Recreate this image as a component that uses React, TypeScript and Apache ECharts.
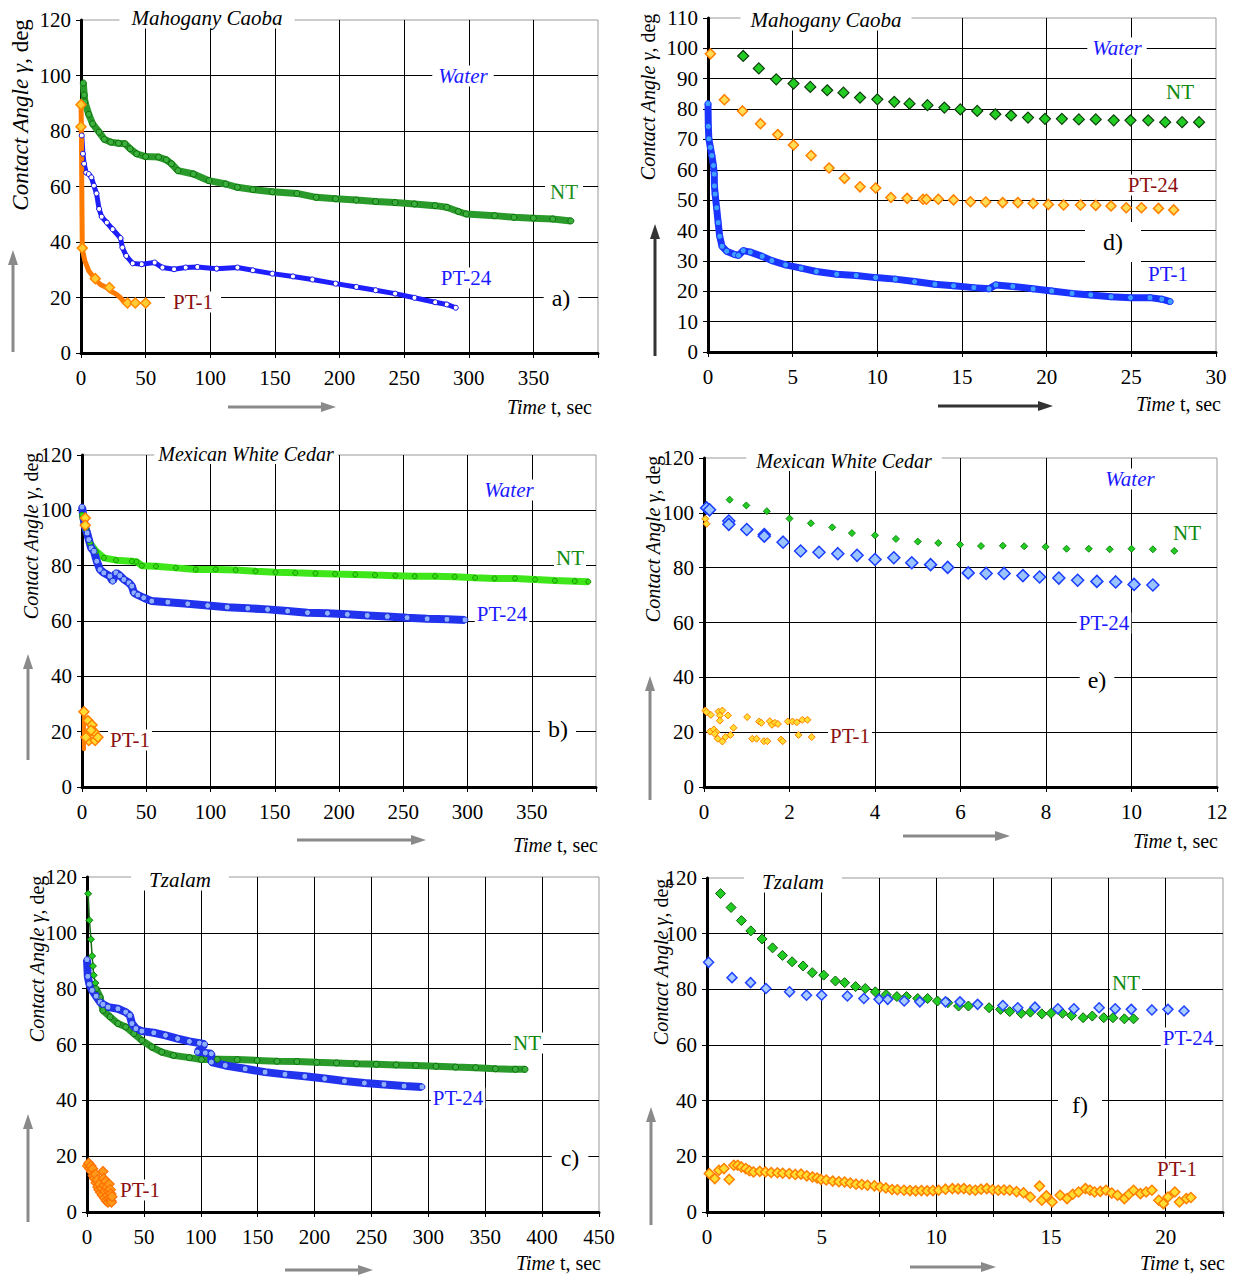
import React, { useEffect, useRef } from 'react';
import * as echarts from 'echarts';

const FONT = '"Liberation Serif", "Times New Roman", serif';

// ---------- Panel a) Mahogany Caoba, long time ----------
const aNT = [[1.8,97.3],[2.5,93],[3,90.5],[6,86],[9,82.6],[14,79.6],[18,77],[23,76],[29,75.6],[34,75.4],[38,73.6],[43,71.8],[50,70.8],[60,70.6],[66,69.6],[70,68.2],[75,65.7],[87,64.5],[99,62.1],[112,60.9],[121,59.7],[133,58.9],[148,58.1],[167,57.5],[182,56.1],[197,55.6],[213,55.1],[228,54.6],[243,54.2],[258,53.7],[274,53.1],[283,52.5],[292,51],[298,50.1],[320,49.5],[335,48.9],[350,48.6],[365,48.3],[379,47.6]];
const aPT24 = [[0.6,78.4],[1.5,71.8],[2.4,68.2],[4,65],[6,64.5],[8,63.3],[10,60.3],[12,57.5],[14,51.9],[16,49.1],[20,47],[24.5,44.6],[30.6,41.4],[32,38],[35,35],[40,32.3],[47,32],[57,32.6],[63,30.8],[72,30.2],[81,30.8],[90,31],[105,30.4],[121,30.8],[133,29.8],[148,28.6],[164,27.6],[179,26.5],[197,25],[213,23.8],[228,22.6],[243,21.4],[258,19.9],[274,18.3],[283,17.5],[290,16.3]];
const aPT1 = [[0,90],[0.3,81.5],[0.6,60],[1,37.4],[3,33.2],[6,29.6],[11,26.5],[15,24.7],[20,23.5],[23,22.3],[27.5,21.1],[30.6,19.9],[33,18.5],[35,17.7]];
const aPT1Marks = [[0,89.5],[0,81.5],[1,37.8],[11,26.8],[22,23.6],[36,18],[42,18],[50,18]];

// ---------- Panel d) Mahogany Caoba, first 30 s ----------
const dNT = [[2.08,97.5],[3.0,93.4],[4.03,89.8],[5.05,88.4],[6.04,87.3],[7.04,86.2],[8.0,85.4],[8.98,83.8],[10.0,83.2],[11.0,82.4],[11.9,81.8],[12.96,81.3],[13.96,80.5],[14.9,79.9],[15.9,79.4],[16.97,78.3],[17.9,77.9],[18.9,77.2],[19.9,76.8],[20.9,76.8],[21.9,76.6],[22.9,76.6],[23.96,76.3],[24.95,76.3],[26.0,76.3],[27.0,75.7],[28.0,75.7],[29.0,75.7]];
const dPT24 = [[0.14,98.2],[0.97,83.1],[2.04,79.4],[3.1,75.2],[4.12,71.6],[5.05,68.2],[6.09,64.7],[7.15,60.6],[8.06,57.2],[8.98,54.4],[9.9,54.0],[10.8,50.9],[11.76,50.6],[12.7,50.3],[12.9,50.3],[13.6,50.3],[14.5,50.1],[15.5,49.5],[16.4,49.4],[17.4,49.2],[18.3,49.2],[19.2,48.9],[20.1,48.6],[21.0,48.4],[22.0,48.4],[22.9,48.3],[23.8,48.1],[24.7,47.5],[25.6,47.5],[26.6,47.3],[27.5,46.8]];
const dPT1 = [[0,81.8],[0.02,74.3],[0.05,70.2],[0.14,67.4],[0.23,64.7],[0.32,61.4],[0.37,58.6],[0.38,54.7],[0.42,52],[0.51,47.5],[0.6,42.6],[0.69,38.1],[0.83,34.8],[1.1,33.2],[1.57,32.1],[1.8,31.8],[2.08,33.4],[2.5,32.9],[3.2,31.5],[3.77,30.1],[4.58,28.7],[5.5,27.6],[6.4,26.5],[7.6,25.6],[8.75,25.2],[9.9,24.5],[11.06,24],[12.2,23.2],[13.4,22.3],[14.5,21.8],[15.7,21.2],[16.6,20.8],[17.0,22.1],[18.0,21.6],[19.2,20.8],[20.3,20.1],[21.5,19.3],[22.6,18.8],[23.8,18.2],[24.95,17.9],[26.1,17.9],[26.8,17.4],[27.3,16.6]];

// ---------- Panel b) Mexican White Cedar, long time ----------
const bNT = [[0,98.4],[3.1,93],[6.2,88.2],[10.9,85.2],[17.1,82.8],[26.4,82],[38.8,81.6],[42.5,81.4],[46.6,80],[57.5,79.8],[73,79.2],[88.5,78.6],[104,78.6],[119.6,78.4],[135,78],[150.6,77.6],[166,77.4],[181.7,77.2],[197,77],[212.7,76.8],[228,76.6],[243.8,76.4],[259,76.2],[274.8,76.2],[290,76],[305.9,75.6],[321,75.4],[337,75.4],[352.5,75],[368,74.6],[383.5,74.4],[394,74.2]];
const bPT24 = [[0,101.2],[2.2,94.2],[4,91.8],[5.3,89.4],[7.1,86.4],[9.3,85.2],[11.5,81.6],[14,78.6],[17,77.4],[21.7,76.2],[23.9,74.4],[26.4,77.4],[29.5,76.4],[32.6,75],[36.6,73.8],[38.8,72.6],[40.4,70.2],[43.5,69.4],[48,68.4],[54.3,67.2],[66.8,66.8],[82.3,66.2],[97.8,65.6],[113,65],[129,64.6],[144.4,64.2],[160,63.6],[175.5,63],[191,62.8],[206.5,62.4],[222,62],[237.6,61.6],[253,61.2],[268.6,60.8],[284,60.6],[298,60.4]];
const bPT1Line = [[1.5,27],[1.5,13.2]];
const bPT1 = [[2.5,97.2],[2.5,94.6],[1.5,27.2],[4.6,24],[4.6,19.2],[5.3,16.8],[7.8,22.4],[9.3,20],[10.2,16.8],[12.4,18],[7,20.5],[3,18]];

// ---------- Panel e) Mexican White Cedar, first 12 s ----------
const eNT = [[0.6,104.8],[0.99,102.7],[1.47,100.6],[2.0,97.9],[2.5,96.2],[3.0,94.7],[3.46,92.6],[4.0,91.8],[4.49,90.5],[5.0,89.5],[5.48,89],[5.99,88.4],[6.48,87.9],[6.99,88],[7.49,87.8],[7.99,87.6],[8.48,86.9],[9.0,86.9],[9.49,86.7],[10.0,86.9],[10.5,86.7],[11.0,86.1]];
const ePT24 = [[0.06,101.8],[0.13,101.1],[0.58,97],[0.58,95.8],[1.0,93.9],[1.41,92.1],[1.41,91.5],[1.85,89.3],[2.26,86.1],[2.69,85.6],[3.13,85.1],[3.58,84.5],[4.0,83],[4.44,83.6],[4.86,81.8],[5.3,81.1],[5.7,80.1],[6.18,78.1],[6.6,77.9],[7.02,77.9],[7.46,77.1],[7.85,76.6],[8.3,76.2],[8.74,75.4],[9.19,75],[9.63,74.8],[10.06,73.9],[10.5,73.7]];
const ePT1 = [[0.03,97.8],[0.06,96],[0.03,27.9],[0.06,27.3],[0.16,26.3],[0.34,27.5],[0.43,27.9],[0.37,26.1],[0.37,24.2],[0.56,26.1],[0.14,20.2],[0.23,21],[0.29,20],[0.25,19.4],[0.32,17.6],[0.43,16.6],[0.5,18.2],[0.62,19],[0.69,21.6],[1.01,25.5],[1.13,17.6],[1.23,17.6],[1.29,23.9],[1.34,23.4],[1.4,16.7],[1.48,16.7],[1.54,24],[1.59,22.7],[1.66,23.4],[1.73,23],[1.8,17.3],[1.84,16.7],[1.96,23.9],[2.07,23.9],[2.17,23.6],[2.21,19],[2.3,24.5],[2.42,24.5],[2.52,18.2]];

// ---------- Panel c) Tzalam, long time ----------
const cNTEarly = [[1,114],[2.1,104.5],[3.5,97.7],[4.5,91.7],[5.2,88.1],[5.9,84.8],[7.3,82],[8,80]];
const cNT = [[8,80],[11.5,77],[14,72.2],[20.3,69.9],[27.2,67.5],[34,66.3],[41.2,63.9],[48.2,61.5],[57,59.1],[65.7,57.3],[76,56.1],[90,55.3],[100.6,54.6],[114.6,54.7],[132,54.6],[149.5,54.3],[167,54],[184.4,53.9],[202,53.6],[219.3,53.4],[236.8,53.1],[254.3,52.9],[271.7,52.7],[289,52.5],[306.7,52.2],[324,51.9],[341.6,51.7],[359,51.3],[376.5,51.1],[385,51.1]];
const cPT24 = [[0,90.4],[0.7,84.4],[2.1,81.6],[4.5,79.4],[8,77.3],[11.5,75.2],[14,74.4],[18.5,73.4],[27.2,72.8],[34,71.6],[37.7,70.4],[39.5,67.5],[43,65.7],[48.2,64.8],[58.7,64.2],[69,63.3],[79.6,62.1],[90,61.1],[98.8,60.5],[103.4,60.1],[97,57.3],[104,57],[109.3,56.7],[109.3,53.7],[121.5,52.5],[139,51.3],[156.5,50.1],[174,49.3],[191.4,48.6],[208.9,47.8],[226.3,46.9],[243.8,46.2],[261,45.7],[278.7,45.1],[294.4,44.8]];
const cPT1 = [[0.5,16.5],[1.5,17.5],[2.5,15.5],[3.5,16.5],[4,14.5],[5,15.5],[5.5,13],[6.5,12],[7.5,13.5],[8,10.5],[9,11.5],[9.5,9],[10.5,8],[11,10],[12,7],[13,8.5],[13.5,6],[14,14.5],[14.5,12],[15,9.5],[15.5,5],[16,7.5],[16.5,11],[17,4],[17.5,9],[18,6],[18.5,3.5],[19,7.5],[19.5,10],[20,5],[20.5,8],[21,4],[21,6.5],[21.5,3.5],[22,5.5]];

// ---------- Panel f) Tzalam, first 22 s ----------
const fNT = [[0.59,114.4],[1.05,109.4],[1.5,104.7],[1.91,101],[2.4,98.1],[2.86,94.9],[3.29,92.2],[3.71,89.9],[4.19,88.4],[4.59,86],[5.09,85.1],[5.6,83],[6.0,82.4],[6.48,81],[6.9,80.3],[7.34,79.1],[7.81,78.1],[8.28,77.4],[8.7,77.4],[9.19,76.7],[9.62,76.7],[10.05,75.8],[10.5,75.2],[10.97,74],[11.4,74],[12.3,73.4],[12.8,72.8],[13.2,72],[13.7,71.4],[14.1,71.8],[14.6,71.2],[15.0,71.4],[15.5,71.4],[15.9,70.6],[16.4,69.8],[16.8,70.4],[17.3,69.8],[17.7,69.8],[18.2,69.4],[18.6,69.4]];
const fPT24 = [[0.07,89.7],[1.09,84.2],[1.9,82.4],[2.57,80.3],[3.6,79.1],[4.34,77.9],[5.0,77.9],[6.12,77.6],[6.84,76.7],[7.5,76.4],[7.88,76.4],[8.6,75.8],[9.28,75.5],[10.4,75.5],[11.03,75.5],[11.8,74.6],[12.9,74.2],[13.55,73.4],[14.3,73.6],[15.3,73],[16.0,73],[17.1,73.4],[17.8,73],[18.5,72.8],[19.4,72.6],[20.1,72.8],[20.8,72.2]];
const fPT1 = [[0.1,13.8],[0.34,12],[0.52,15],[0.74,15.6],[0.97,11.7],[1.17,16.8],[1.34,16.8],[1.5,16.2],[1.69,15.6],[1.85,14.8],[2.03,14.4],[2.3,14.6],[2.55,14.4],[2.8,14.2],[3.07,14.1],[3.3,13.9],[3.59,13.8],[3.85,13.5],[4.1,13.6],[4.35,13.0],[4.6,12.6],[4.8,12.2],[4.97,11.7],[5.2,11.5],[5.48,11.1],[5.75,10.9],[6.0,10.8],[6.25,10.4],[6.5,10],[6.75,9.9],[7.0,9.6],[7.3,9.4],[7.55,9],[7.8,8.6],[8.07,8.1],[8.3,8.0],[8.59,7.8],[8.85,7.7],[9.1,7.6],[9.35,7.7],[9.6,7.6],[9.85,7.7],[10.1,7.8],[10.4,8.2],[10.7,8.4],[10.95,8.3],[11.2,8.4],[11.45,8.0],[11.7,7.8],[11.95,8.2],[12.2,8.4],[12.45,8.0],[12.7,7.8],[12.95,7.9],[13.2,7.8],[13.5,7.3],[13.8,6.9],[14.1,5.4],[14.5,9.3],[14.6,4.2],[14.8,5.8],[15.05,3.6],[15.4,6.0],[15.7,4.8],[15.95,6.4],[16.2,7.2],[16.5,8.4],[16.7,7.8],[16.9,7.2],[17.15,7.4],[17.4,7.8],[17.65,6.8],[17.9,6.0],[18.2,4.8],[18.4,6.4],[18.6,7.8],[18.9,6.6],[19.15,7.2],[19.4,7.8],[19.7,4.2],[19.9,3.0],[20.1,5.4],[20.4,7.2],[20.6,3.6],[20.9,4.8],[21.1,5.2]];

// ---------- layout (pixels) ----------
type Box = { left: number; top: number; width: number; height: number; xMax: number; xInt: number; yMax: number; yInt: number; fmt?: (v: number) => string };
const boxes: Box[] = [
  { left: 81, top: 20, width: 517, height: 333, xMax: 400, xInt: 50, yMax: 120, yInt: 20, fmt: (v) => (v >= 400 ? '' : String(v)) },
  { left: 708, top: 18, width: 508, height: 334, xMax: 30, xInt: 5, yMax: 110, yInt: 10 },
  { left: 82, top: 455, width: 514, height: 332, xMax: 400, xInt: 50, yMax: 120, yInt: 20, fmt: (v) => (v >= 400 ? '' : String(v)) },
  { left: 704, top: 458, width: 513, height: 329, xMax: 12, xInt: 2, yMax: 120, yInt: 20 },
  { left: 87, top: 877, width: 512, height: 335, xMax: 450, xInt: 50, yMax: 120, yInt: 20 },
  { left: 707, top: 878, width: 516, height: 334, xMax: 22.5, xInt: 2.5, yMax: 120, yInt: 20, fmt: (v) => (Math.abs(v % 5) < 1e-6 ? String(v) : '') },
];

function band(data: number[][], i: number, color: string, width: number, fill: string, border: string, size = 6, symbol = 'circle') {
  return {
    type: 'line', xAxisIndex: i, yAxisIndex: i, data, showSymbol: true, showAllSymbol: true, symbol, symbolSize: size,
    lineStyle: { color, width }, itemStyle: { color: fill, borderColor: border, borderWidth: 1 }, silent: true, z: 3,
  };
}
function dots(data: number[][], i: number, fill: string, border: string, size: number, bw = 1) {
  return {
    type: 'scatter', xAxisIndex: i, yAxisIndex: i, data, symbol: 'diamond', symbolSize: size,
    itemStyle: { color: fill, borderColor: border, borderWidth: bw, opacity: 1 }, silent: true, z: 4,
  };
}

function label(x: number, y: number, text: string, color: string, size: number, italic = false, pad: number[] = [0, 5]) {
  return {
    type: 'text', x, y, z: 100,
    style: {
      text, fill: color, fontFamily: FONT, fontSize: size, fontStyle: italic ? 'italic' : 'normal',
      align: 'center', verticalAlign: 'middle', textAlign: 'center', textVerticalAlign: 'middle',
      backgroundColor: '#fff', padding: pad,
    },
  };
}
function richStyles(size: number) {
  return {
    i: { fontFamily: FONT, fontSize: size, fontStyle: 'italic', fill: '#000', color: '#000' },
    n: { fontFamily: FONT, fontSize: size, fontStyle: 'normal', fill: '#000', color: '#000' },
  };
}
function yName(x: number, y: number, size: number) {
  return {
    type: 'text', x, y, rotation: Math.PI / 2, z: 100,
    style: {
      text: '{i|Contact Angle γ}{n|, deg}', fill: '#000', fontFamily: FONT, fontSize: size,
      align: 'center', verticalAlign: 'middle', textAlign: 'center', textVerticalAlign: 'middle',
      rich: richStyles(size),
    },
  };
}
function xName(xRight: number, y: number, size: number) {
  return {
    type: 'text', x: xRight, y, z: 100,
    style: {
      text: '{i|Time}{n| t, sec}', fill: '#000', fontFamily: FONT, fontSize: size,
      align: 'right', verticalAlign: 'middle', textAlign: 'right', textVerticalAlign: 'middle',
      rich: richStyles(size),
    },
  };
}
function vArrow(x: number, yBottom: number, yTip: number, color: string) {
  return [
    { type: 'line', z: 100, shape: { x1: x, y1: yBottom, x2: x, y2: yTip + 12 }, style: { stroke: color, lineWidth: 3 } },
    { type: 'polygon', z: 100, shape: { points: [[x - 5, yTip + 15], [x + 5, yTip + 15], [x, yTip]] }, style: { fill: color } },
  ];
}
function hArrow(y: number, xStart: number, xTip: number, color: string) {
  return [
    { type: 'line', z: 100, shape: { x1: xStart, y1: y, x2: xTip - 12, y2: y }, style: { stroke: color, lineWidth: 3 } },
    { type: 'polygon', z: 100, shape: { points: [[xTip - 15, y - 5], [xTip - 15, y + 5], [xTip, y]] }, style: { fill: color } },
  ];
}

const GREEN_T = '#0f8a0f';
const BLUE_T = '#1a1aff';
const RED_T = '#8b1010';

function buildOption() {
  const grid = boxes.map((b) => ({
    left: b.left, top: b.top, width: b.width, height: b.height, show: true,
    borderColor: '#999', borderWidth: 1, backgroundColor: 'rgba(0,0,0,0)',
  }));
  const xAxis = boxes.map((b, i) => ({
    type: 'value', gridIndex: i, min: 0, max: b.xMax, interval: b.xInt,
    axisLine: { show: true, onZero: false, lineStyle: { color: '#000', width: 3 } },
    axisTick: { show: true, length: 5, lineStyle: { color: '#000', width: 1 } },
    splitLine: { show: true, showMinLine: false, showMaxLine: false, lineStyle: { color: '#000', width: 1 } },
    axisLabel: { fontFamily: FONT, fontSize: 21, color: '#000', margin: 14, formatter: b.fmt ? b.fmt : (v: number) => String(v) },
  }));
  const yAxis = boxes.map((b, i) => ({
    type: 'value', gridIndex: i, min: 0, max: b.yMax, interval: b.yInt,
    axisLine: { show: true, onZero: false, lineStyle: { color: '#000', width: 3 } },
    axisTick: { show: true, length: 5, lineStyle: { color: '#000', width: 1 } },
    splitLine: { show: true, showMinLine: false, showMaxLine: false, lineStyle: { color: '#000', width: 1 } },
    axisLabel: { fontFamily: FONT, fontSize: 21, color: '#000', margin: 10 },
  }));

  const series: any[] = [
    // a
    band(aNT, 0, '#2a9a2a', 7, '#3cb03c', '#0d6d0d', 6),
    band(aPT24, 0, '#1e1eff', 5, '#ffffff', '#1010e0', 5),
    band(aPT1, 0, '#ff7a00', 5, '#ff7a00', '#ff7a00', 2),
    dots(aPT1Marks, 0, '#ffcc33', '#ff8800', 10, 1.5),
    // d
    dots(dNT, 1, '#22cc22', '#0d3d0d', 11, 1.2),
    dots(dPT24, 1, '#ffdd55', '#ff7f00', 10, 1.5),
    band(dPT1, 1, '#1a33ff', 7, '#3fa0ff', '#1a33ff', 6),
    // b
    band(bNT, 2, '#3ee61a', 7, '#33dd11', '#1a9a00', 5),
    band(bPT24, 2, '#2233ee', 8, '#8fb0ff', '#1a2bdd', 6),
    band(bPT1Line, 2, '#ff7a00', 4, '#ff7a00', '#ff7a00', 1),
    dots(bPT1, 2, '#ffdd33', '#ff8000', 10, 1.5),
    // e
    dots(eNT, 3, '#22cc22', '#128812', 7, 1),
    dots(ePT24, 3, '#99c4ff', '#1a3cff', 12, 1.5),
    dots(ePT1, 3, '#ffdd33', '#ff8000', 7, 1),
    // c
    band(cNTEarly, 4, '#1a6a1a', 1.5, '#22cc22', '#0d6d0d', 7, 'diamond'),
    band(cNT, 4, '#2a9a2a', 7, '#3cb03c', '#0d6d0d', 6),
    band(cPT24, 4, '#2233ee', 8, '#8fb0ff', '#1a2bdd', 6),
    dots(cPT1, 4, '#ff9a1a', '#ff7000', 10, 1.2),
    // f
    dots(fNT, 5, '#22cc22', '#0d5d0d', 10, 1),
    dots(fPT24, 5, '#a8ccff', '#2244ff', 10, 1.5),
    dots(fPT1, 5, '#ffdd33', '#ff8000', 10, 1.5),
  ];

  const graphic: any[] = [
    // a
    label(207, 18, 'Mahogany Caoba', '#000', 21, true, [0, 12]),
    label(463, 76, 'Water', BLUE_T, 21, true, [0, 6]),
    label(564, 192, 'NT', '#1e8f1e', 21),
    label(466, 278, 'PT-24', BLUE_T, 21),
    label(561, 298, 'a)', '#000', 24, false, [0, 8]),
    label(193, 302, 'PT-1', RED_T, 21, false, [0, 8]),
    yName(20, 115, 23),
    xName(592, 407, 20),
    ...vArrow(13, 352, 250, '#8a8a8a'),
    ...hArrow(407, 228, 336, '#8a8a8a'),
    // d
    label(826, 20, 'Mahogany Caoba', '#000', 21, true, [0, 10]),
    label(1117, 48, 'Water', BLUE_T, 21, true, [0, 5]),
    label(1180, 92, 'NT', GREEN_T, 21),
    label(1153, 185, 'PT-24', RED_T, 21),
    label(1113, 242, 'd)', '#000', 24, false, [8, 18]),
    label(1168, 274, 'PT-1', BLUE_T, 21),
    yName(648, 97, 20),
    xName(1221, 404, 20),
    ...vArrow(655, 356, 224, '#333'),
    ...hArrow(406, 938, 1053, '#333'),
    // b
    label(246, 454, 'Mexican White Cedar', '#000', 20, true, [0, 4]),
    label(509, 490, 'Water', BLUE_T, 21, true, [0, 4]),
    label(570, 558, 'NT', GREEN_T, 21, false, [0, 2]),
    label(502, 614, 'PT-24', BLUE_T, 21, false, [0, 2]),
    label(558, 729, 'b)', '#000', 24, false, [0, 8]),
    label(130, 740, 'PT-1', RED_T, 21, false, [0, 2]),
    yName(31, 536, 20),
    xName(598, 845, 20),
    ...vArrow(28, 760, 654, '#8a8a8a'),
    ...hArrow(840, 297, 426, '#8a8a8a'),
    // e
    label(844, 461, 'Mexican White Cedar', '#000', 20, true, [0, 10]),
    label(1130, 479, 'Water', BLUE_T, 21, true, [0, 4]),
    label(1187, 533, 'NT', GREEN_T, 21, false, [0, 4]),
    label(1104, 623, 'PT-24', BLUE_T, 21, false, [0, 2]),
    label(1097, 680, 'e)', '#000', 24, false, [0, 8]),
    label(850, 736, 'PT-1', RED_T, 21, false, [0, 2]),
    yName(653, 539, 20),
    xName(1218, 841, 20),
    ...vArrow(650, 800, 676, '#8a8a8a'),
    ...hArrow(836, 903, 1010, '#8a8a8a'),
    // c
    label(180, 880, 'Tzalam', '#000', 21, true, [0, 18]),
    label(527, 1043, 'NT', GREEN_T, 21, false, [0, 2]),
    label(458, 1098, 'PT-24', BLUE_T, 21, false, [0, 2]),
    label(570, 1158, 'c)', '#000', 24, false, [0, 9]),
    label(140, 1190, 'PT-1', RED_T, 21, false, [0, 2]),
    yName(37, 959, 20),
    xName(601, 1263, 20),
    ...vArrow(28, 1222, 1114, '#8a8a8a'),
    ...hArrow(1270, 285, 373, '#8a8a8a'),
    // f
    label(793, 882, 'Tzalam', '#000', 21, true, [0, 18]),
    label(1126, 983, 'NT', GREEN_T, 21, false, [0, 2]),
    label(1188, 1038, 'PT-24', BLUE_T, 21, false, [0, 2]),
    label(1080, 1105, 'f)', '#000', 24, false, [0, 14]),
    label(1177, 1169, 'PT-1', RED_T, 21, false, [0, 2]),
    yName(661, 962, 20),
    xName(1225, 1263, 20),
    ...vArrow(651, 1225, 1107, '#8a8a8a'),
    ...hArrow(1267, 910, 996, '#8a8a8a'),
  ];

  return {
    animation: false,
    backgroundColor: '#fff',
    textStyle: { fontFamily: FONT },
    grid, xAxis, yAxis, series, graphic,
  };
}

export default function App() {
  const ref = useRef<HTMLDivElement>(null);
  useEffect(() => {
    if (!ref.current) return;
    const chart = echarts.init(ref.current, undefined, { renderer: 'svg' });
    chart.setOption(buildOption() as any);
    return () => chart.dispose();
  }, []);
  return (
    <div
      ref={ref}
      style={{ position: 'absolute', left: 0, top: 0, width: 1236, height: 1276, background: '#fff' }}
    />
  );
}
